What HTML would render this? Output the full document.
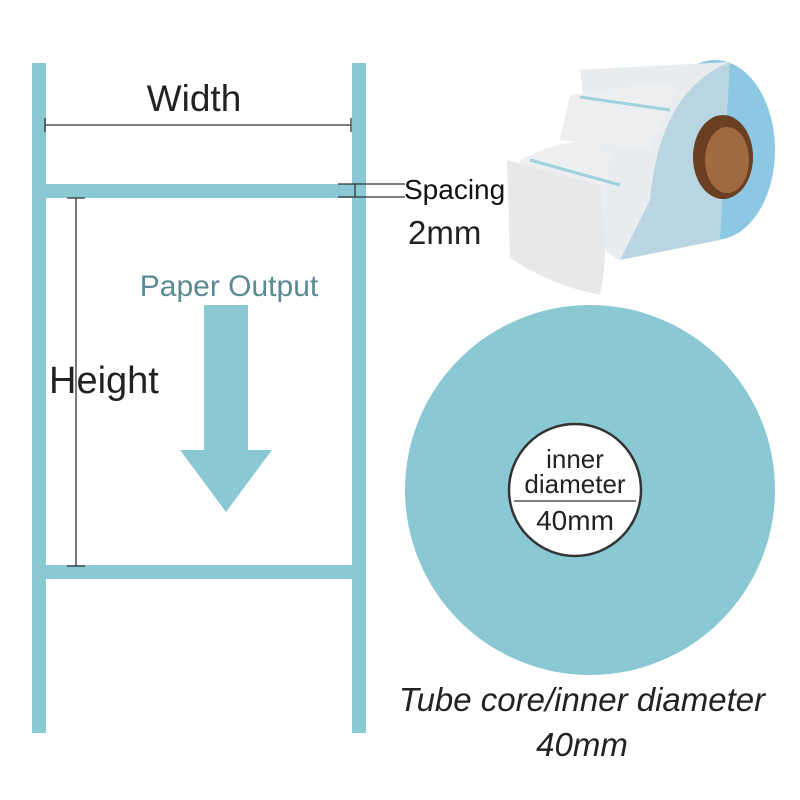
<!DOCTYPE html>
<html><head><meta charset="utf-8"><style>
body{margin:0;background:#fff;}
svg{display:block;font-family:"Liberation Sans",sans-serif;}
</style></head><body>
<svg width="800" height="800" viewBox="0 0 800 800">
<rect width="800" height="800" fill="#fff"/>
<g fill="#8ac8d3">
<rect x="32" y="63" width="14" height="670"/>
<rect x="352" y="63" width="14" height="670"/>
<rect x="46" y="184" width="306" height="14"/>
<rect x="46" y="565" width="306" height="14"/>
</g>
<g fill="#fff">
<rect x="46" y="63" width="306" height="121" rx="8"/>
<rect x="46" y="198" width="306" height="367" rx="8"/>
<rect x="46" y="579" width="306" height="154" rx="8"/>
<rect x="46" y="63" width="306" height="20"/>
<rect x="46" y="713" width="306" height="20"/>
</g>
<g stroke="#333" stroke-width="1.3" fill="none">
<line x1="45" y1="125" x2="351" y2="125"/>
<line x1="45" y1="118" x2="45" y2="132"/>
<line x1="351" y1="118" x2="351" y2="132"/>
<line x1="76" y1="198" x2="76" y2="566"/>
<line x1="67" y1="198" x2="85" y2="198"/>
<line x1="67" y1="566" x2="85" y2="566"/>
<line x1="338" y1="184" x2="405" y2="184"/>
<line x1="338" y1="197" x2="405" y2="197"/>
<line x1="355" y1="184" x2="355" y2="197"/>
</g>
<text x="194" y="111" font-size="37" text-anchor="middle" fill="#222">Width</text>
<text x="49" y="393" font-size="38" fill="#222">Height</text>
<text x="229" y="296" font-size="30" text-anchor="middle" fill="#5a8a93">Paper Output</text>
<polygon points="204,305 248,305 248,450 272,450 226,512 180,450 204,450" fill="#8ac8d3"/>
<text x="404" y="199" font-size="28" fill="#111">Spacing</text>
<text x="408" y="244" font-size="33" fill="#222">2mm</text>
<!-- roll -->
<ellipse cx="715" cy="150" rx="60" ry="90" fill="#8cc7e3"/>
<polygon points="580,70 730,62 720,240 620,260" fill="#b9d5e2"/>
<path d="M580,70 L730,62 Q660,90 650,200 L620,260 Q600,250 600,240 Z" fill="#e9ecef"/>
<path d="M520,160 Q580,130 610,150 L600,290 Q560,275 520,255 Z" fill="#eceeef"/>
<path d="M570,95 L680,80 L650,150 L560,140 Z" fill="#eceeef"/>
<path d="M507,160 Q540,170 600,185 Q610,250 600,295 Q550,285 510,258 Z" fill="#e6e8ea"/>
<line x1="530" y1="160" x2="620" y2="185" stroke="#9fd0dc" stroke-width="3"/>
<line x1="580" y1="97" x2="670" y2="110" stroke="#9fd0dc" stroke-width="3"/>
<ellipse cx="723" cy="157" rx="30" ry="42" fill="#6b3f22"/>
<ellipse cx="727" cy="160" rx="22" ry="33" fill="#a06a40"/>
<!-- circle -->
<circle cx="590" cy="490" r="185" fill="#8ac8d3"/>
<circle cx="575" cy="490" r="66" fill="#fff" stroke="#333" stroke-width="2.5"/>
<text x="575" y="468" font-size="26" text-anchor="middle" fill="#222">inner</text>
<text x="575" y="493" font-size="26" text-anchor="middle" fill="#222">diameter</text>
<line x1="514" y1="501" x2="636" y2="501" stroke="#333" stroke-width="1.3"/>
<text x="575" y="530" font-size="28" text-anchor="middle" fill="#222">40mm</text>
<text x="582" y="711" font-size="33" font-style="italic" text-anchor="middle" fill="#222">Tube core/inner diameter</text>
<text x="582" y="756" font-size="33" font-style="italic" text-anchor="middle" fill="#222">40mm</text>
</svg>
</body></html>
